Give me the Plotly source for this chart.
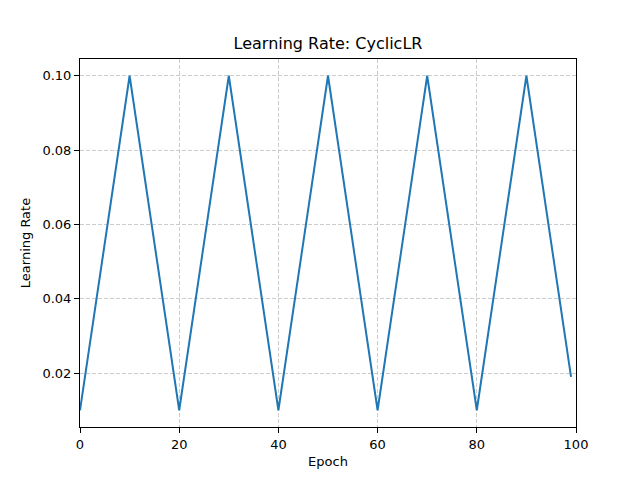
import plotly.graph_objects as go

# 꼭짓점 값
epochs = [0, 10, 20, 30, 40, 50, 60, 70, 80, 90, 99]
lr = [0.01, 0.1, 0.01, 0.1, 0.01, 0.1, 0.01, 0.1, 0.01, 0.1, 0.019]

x_ticks = [0, 20, 40, 60, 80, 100]
y_ticks = [0.02, 0.04, 0.06, 0.08, 0.10]

fig = go.Figure()
fig.add_trace(
    go.Scatter(
        x=epochs, y=lr, mode='lines',
        line={'color': '#1f77b4', 'width': 2},
    )
)

axis_common = dict(
    showline=True, linecolor='black', linewidth=1, mirror=True,
    ticks='outside', ticklen=5, tickwidth=1, tickcolor='black',
    showgrid=True, gridcolor='#cccccc', griddash='4px,2px', gridwidth=1,
    zeroline=False, tickfont=dict(size=13, color='black'),
    title_font=dict(size=13, color='black'),
)

# 페이지 여백(8px)만큼 보정
fig.update_layout(
    width=640, height=480,
    margin=dict(l=72, r=72, t=51, b=61),
    plot_bgcolor='white', paper_bgcolor='white',
    font=dict(family='DejaVu Sans', color='black'),
    showlegend=False,
    title=dict(
        text='Learning Rate: CyclicLR', x=(80 - 8 + 248) / 640, xanchor='center',
        y=1 - 35 / 480, yref='container', yanchor='middle',
        font=dict(size=16, color='black'),
    ),
    xaxis=dict(axis_common, range=[0, 100], tickvals=x_ticks,
               title=dict(text='Epoch', standoff=6)),
    yaxis=dict(axis_common, range=[0.0055, 0.1045], tickvals=y_ticks,
               tickformat='.2f', title=dict(text='Learning Rate', standoff=8)),
)

fig.write_html("out.html")
